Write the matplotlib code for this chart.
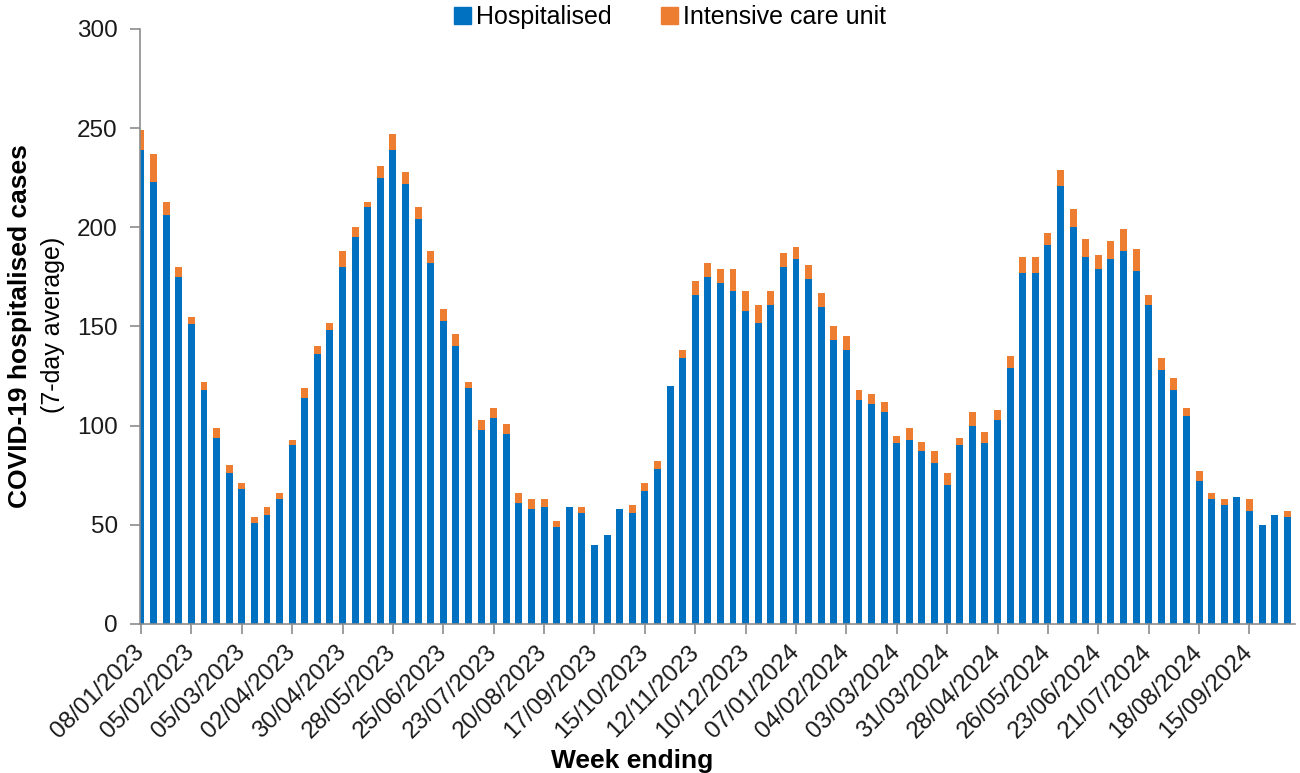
import matplotlib
matplotlib.use("Agg")
import matplotlib.pyplot as plt
from matplotlib.patches import Patch
import numpy as np
import pandas as pd

plt.rcParams['font.family'] = ['Liberation Sans', 'DejaVu Sans']

# week ending dates, 08/01/2023 to 06/10/2024
weeks = pd.date_range("2023-01-08", "2024-10-06", freq="7D")

# 7-day average
hospitalised = [239, 223, 206, 175, 151, 118, 94, 76, 68, 51,
                55, 63, 90, 114, 136, 148, 180, 195, 210, 225,
                239, 222, 204, 182, 153, 140, 119, 98, 104, 96,
                61, 58, 59, 49, 59, 56, 40, 45, 58, 56,
                67, 78, 120, 134, 166, 175, 172, 168, 158, 152,
                161, 180, 184, 174, 160, 143, 138, 113, 111, 107,
                91, 93, 87, 81, 70, 90, 100, 91, 103, 129,
                177, 177, 191, 221, 200, 185, 179, 184, 188, 178,
                161, 128, 118, 105, 72, 63, 60, 64, 57, 50,
                55, 54]
icu = [10, 14, 7, 5, 4, 4, 5, 4, 3, 3,
       4, 3, 3, 5, 4, 4, 8, 5, 3, 6,
       8, 6, 6, 6, 6, 6, 3, 5, 5, 5,
       5, 5, 4, 3, 0, 3, 0, 0, 0, 4,
       4, 4, 0, 4, 7, 7, 7, 11, 10, 9,
       7, 7, 6, 7, 7, 7, 7, 5, 5, 5,
       4, 6, 5, 6, 6, 4, 7, 6, 5, 6,
       8, 8, 6, 8, 9, 9, 7, 9, 11, 11,
       5, 6, 6, 4, 5, 3, 3, 0, 6, 0,
       0, 3]

blue = "#0070C0"
orange = "#ED7D31"
grey = "#8C8C8C"

fig = plt.figure(figsize=(13, 7.73), dpi=100)
ax = fig.add_axes([0.1077, 0.1928, 0.8883, 0.7697])

x = np.arange(len(weeks))
ax.bar(x, hospitalised, width=0.55, color=blue, label="Hospitalised")
ax.bar(x, icu, width=0.55, bottom=hospitalised, color=orange, label="Intensive care unit")

ax.set_xlim(-0.08, 91.6)
ax.set_ylim(0, 300)
ax.set_yticks(range(0, 301, 50))

tick_pos = x[::4]
ax.set_xticks(tick_pos)
ax.set_xticklabels([d.strftime("%d/%m/%Y") for d in weeks[::4]],
                   rotation=45, ha="right", va="center", rotation_mode="anchor")

for s in ["top", "right"]:
    ax.spines[s].set_visible(False)
for s in ["left", "bottom"]:
    ax.spines[s].set_color(grey)
    ax.spines[s].set_linewidth(1.2)
ax.tick_params(axis="both", colors=grey, length=7, width=1.2, labelcolor="#1a1a1a")
ax.tick_params(axis="y", labelsize=17.5, pad=9)
ax.tick_params(axis="x", labelsize=17.5, pad=11)

fig.text(20 / 1300, 1 - 326 / 773, "COVID-19 hospitalised cases", rotation=90,
         ha="center", va="center", fontsize=19, fontweight="bold")
fig.text(53 / 1300, 1 - 325 / 773, "(7-day average)", rotation=90,
         ha="center", va="center", fontsize=18)
fig.text(632 / 1300, 1 - 761 / 773, "Week ending", ha="center", va="center",
         fontsize=19, fontweight="bold")

handles = [Patch(color=blue, label="Hospitalised"),
           Patch(color=orange, label="Intensive care unit")]
fig.legend(handles=handles, loc="center", bbox_to_anchor=(670 / 1300, 1 - 17 / 773),
           ncol=2, frameon=False, fontsize=18, handlelength=0.65, handleheight=0.65,
           handletextpad=0.2, columnspacing=2.0)

fig.savefig("out.png", dpi=100)
